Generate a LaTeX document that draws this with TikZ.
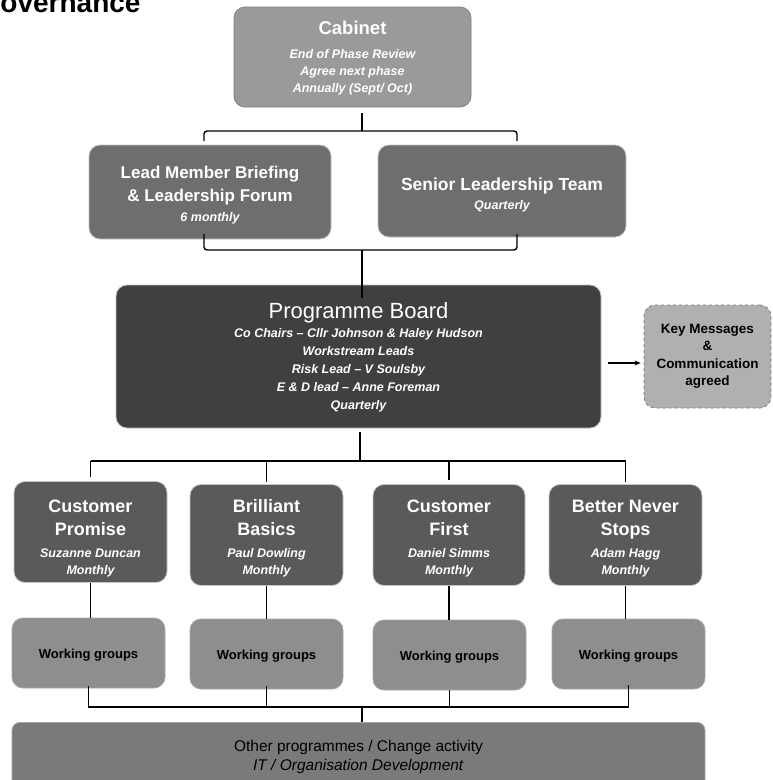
\documentclass[tikz,border=0pt]{standalone}
\usepackage{fontspec}
\setmainfont{Liberation Sans}
\usetikzlibrary{arrows.meta}
\definecolor{cabfill}{HTML}{9A9A9A}
\definecolor{leadfill}{HTML}{6E6E6E}
\definecolor{boardfill}{HTML}{404040}
\definecolor{keyfill}{HTML}{B0B0B0}
\definecolor{workfill}{HTML}{5A5A5A}
\definecolor{wgfill}{HTML}{8E8E8E}
\definecolor{otherfill}{HTML}{7A7A7A}
\definecolor{boxline}{HTML}{C4C4C4}
\definecolor{keyline}{HTML}{7A7A7A}
\tikzset{
  base/.style={rounded corners=11pt, inner sep=0pt, align=center, line width=0.8pt, draw=boxline},
  cabbox/.style={base, fill=cabfill, draw=gray, text=white},
  leadbox/.style={base, fill=leadfill, text=white},
  boardbox/.style={base, fill=boardfill, text=white},
  keybox/.style={base, fill=keyfill, draw=keyline, dashed, text=black},
  workbox/.style={base, fill=workfill, text=white, minimum height=101pt, font=\fontsize{12.5}{17}\selectfont},
  wgbox/.style={base, fill=wgfill, draw=gray!70, text=black, minimum height=70pt, minimum width=153pt, font=\fontsize{13}{15}\selectfont\bfseries},
  otherbox/.style={base, rounded corners=8pt, fill=otherfill, draw=gray!70, text=black},
  conn/.style={line width=1.4pt, black},
  brace/.style={line width=1.4pt, black, rounded corners=3pt},
}
\newcommand\ttl[1]{{\fontsize{18}{21}\selectfont\bfseries #1}}
\newcommand\sub[1]{{\fontsize{12.5}{17}\selectfont\bfseries\itshape #1}}
\begin{document}
\begin{tikzpicture}[x=1pt,y=-1pt]
\useasboundingbox (0,0) rectangle (772,780);
% title
\node[anchor=base west, inner sep=0pt, font=\fontsize{28}{30}\selectfont\bfseries] (title) at (-21.5,12) {Governance};
% cabinet
\node[cabbox, minimum width=237pt, minimum height=100pt, font=\fontsize{12.5}{17}\selectfont] (cab) at (352.5,57)
  {{\fontsize{18.5}{22}\selectfont\bfseries\rule{0pt}{16pt}Cabinet}\\[7pt]
   \sub{End of Phase Review}\\ \sub{Agree next phase}\\ \sub{Annually (Sept/ Oct)}};
% second row
\node[leadbox, minimum width=242pt, minimum height=94pt, font=\fontsize{12.5}{17}\selectfont] (lead) at (210,192)
  {{\fontsize{17}{23}\selectfont\bfseries\rule{0pt}{18pt}Lead Member Briefing}\\[6pt]
   {\fontsize{17}{23}\selectfont\bfseries \& Leadership Forum}\\[3pt] \sub{6 monthly}};
\node[leadbox, minimum width=248pt, minimum height=92pt, font=\fontsize{12.5}{17}\selectfont] (slt) at (502,191)
  {{\fontsize{17.5}{21}\selectfont\bfseries\rule{0pt}{20pt}Senior Leadership Team}\\[2pt] \sub{Quarterly}};
% programme board
\node[boardbox, minimum width=485pt, minimum height=143pt, font=\fontsize{12.5}{18}\selectfont] (pb) at (358.5,356.5)
  {{\fontsize{22}{24}\selectfont\rule{0pt}{18pt}Programme Board}\\[1pt]
   \sub{Co Chairs -- Cllr Johnson \& Haley Hudson}\\
   \sub{Workstream Leads}\\ \sub{Risk Lead -- V Soulsby}\\
   \sub{E \& D lead -- Anne Foreman}\\ \sub{Quarterly}};
\node[keybox, minimum width=127pt, minimum height=103pt, font=\fontsize{13.5}{17.5}\selectfont\bfseries] (key) at (707.5,356.5)
  {Key Messages\\ \&\\ Communication\\ agreed};
% workstreams
\node[workbox, minimum width=153pt] (cp) at (90.5,532) {\ttl{\rule{0pt}{26pt}Customer}\\[6pt] \ttl{Promise}\\[5pt] \sub{Suzanne Duncan}\\ \sub{Monthly}};
\node[workbox, minimum width=153pt] (bb) at (266.5,535) {\ttl{\rule{0pt}{19pt}Brilliant}\\[6pt] \ttl{Basics}\\[5pt] \sub{Paul Dowling}\\ \sub{Monthly}};
\node[workbox, minimum width=152pt] (cf) at (449,535) {\ttl{\rule{0pt}{19pt}Customer}\\[6pt] \ttl{First}\\[5pt] \sub{Daniel Simms}\\ \sub{Monthly}};
\node[workbox, minimum width=153pt] (bns) at (625.5,535) {\ttl{\rule{0pt}{19pt}Better Never}\\[6pt] \ttl{Stops}\\[5pt] \sub{Adam Hagg}\\ \sub{Monthly}};
% working groups
\node[wgbox] (wg1) at (88.5,653) {\rule{0pt}{13pt}Working groups};
\node[wgbox] (wg2) at (266.5,654) {\rule{0pt}{13pt}Working groups};
\node[wgbox] (wg3) at (449.5,655) {\rule{0pt}{13pt}Working groups};
\node[wgbox] (wg4) at (628.5,654) {\rule{0pt}{13pt}Working groups};
% bottom
\node[otherbox, minimum width=693pt, minimum height=66pt, anchor=north, font=\fontsize{15.5}{19}\selectfont] (other) at (358.5,722)
  {\rule{0pt}{14pt}Other programmes / Change activity\\
   \textit{IT / Organisation Development}};
% top brace
\draw[conn] ([yshift=-6pt]cab.south -| 362,0) -- (362,131);
\draw[brace] (204,141) |- (362,131) -| (517,141);
% lower brace
\draw[brace] (204,234) |- (362,250) -| (517,234);
\draw[conn] (362,250) -- ([yshift=-13pt]pb.north -| 362,0);
% programme board to workstreams
\coordinate (hb) at (360,461);
\draw[conn] ([yshift=-4pt]pb.south -| hb) -- (hb);
\draw[conn] (cp.north |- hb) -- (bns.north |- hb);
\foreach \n/\g in {cp/4,bb/2,cf/4,bns/2}{\draw[conn] (\n.north |- hb) -- ([yshift=\g pt]\n.north);}
% arrow to key messages
\draw[conn, line width=1.3pt, -{Stealth[length=6pt,width=5pt]}] ([xshift=7pt]pb.east |- 0,363) -- ([xshift=-3pt]key.west |- 0,363);
% workstreams to working groups
\foreach \a/\b in {cp/wg1,bb/wg2,cf/wg3,bns/wg4}{\draw[conn] (\a.south) -- (\a.south |- \b.north);}
% working groups to other
\coordinate (hl) at (362,707);
\draw[conn] ([yshift=2pt]wg1.south) |- (wg4.south |- hl) -- ([yshift=4pt]wg4.south);
\draw[conn] ([yshift=3pt]wg2.south) -- (wg2.south |- hl);
\draw[conn] (wg3.south) -- (wg3.south |- hl);
\draw[conn] (hl) -- (hl |- other.north);
\end{tikzpicture}
\end{document}
